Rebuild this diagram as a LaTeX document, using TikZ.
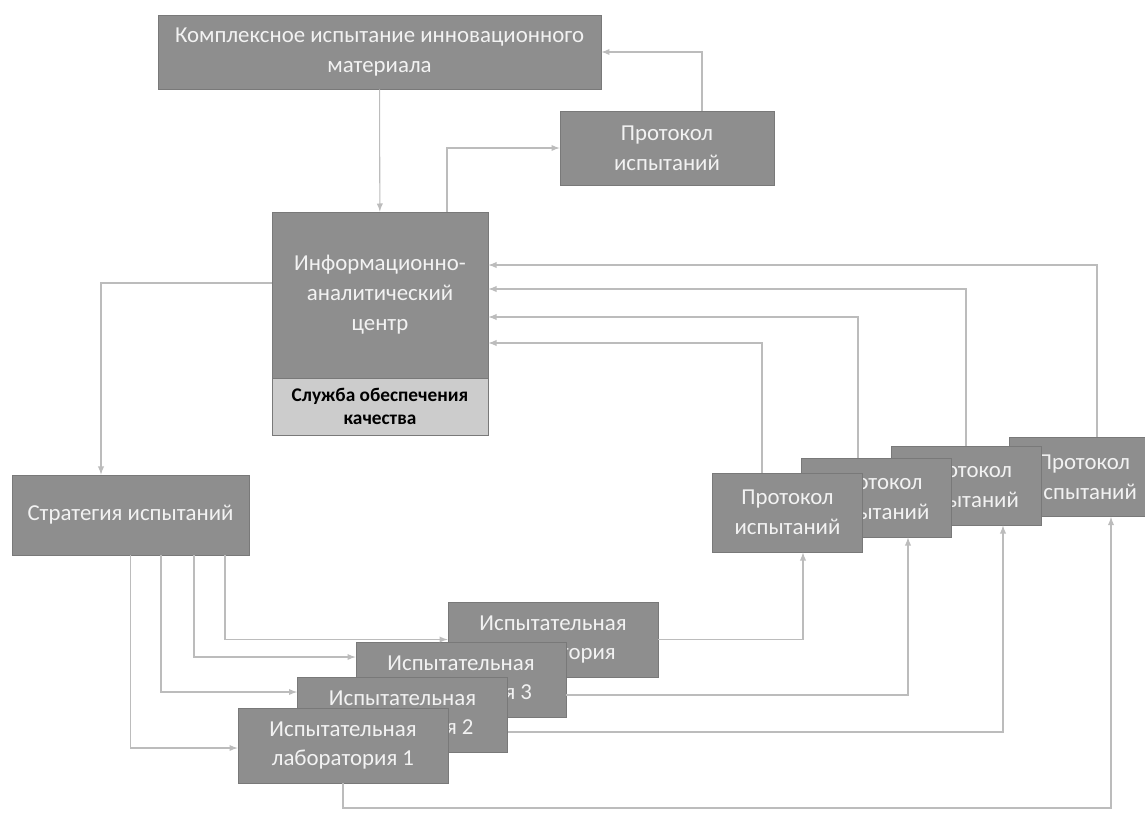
\documentclass[tikz,border=0pt]{standalone}
\usepackage{fontspec}
\setmainfont{Carlito}
\usepackage{tikz}
\usetikzlibrary{arrows, positioning, calc}
\definecolor{boxgray}{RGB}{142,142,142}
\definecolor{qualgray}{RGB}{204,204,204}
\definecolor{linegray}{RGB}{188,188,188}
\tikzstyle{line} = [draw=linegray, line width=0.6pt, -latex]

\begin{document}
\begin{tikzpicture}[x=0.02cm,y=-0.02cm,
 item/.style={rectangle,fill=boxgray,draw=boxgray!85!black,line width=0.5pt,align=center,text=white!95!black,inner sep=2pt,font=\fontsize{13}{17}\selectfont},
 lab/.style={item,minimum width=4.2cm,minimum height=1.5cm},
 prot/.style={item,minimum width=3cm,minimum height=1.58cm}]
 \useasboundingbox (0,0) rectangle (1145,818);

 \node[item, minimum width=8.86cm, minimum height=1.48cm] (top) at (379.5,52) {Комплексное испытание инновационного\\материала};
 \node[item, minimum width=4.28cm, minimum height=1.48cm] (pt) at (667,148) {Протокол\\испытаний};
 \node[item, minimum width=4.32cm, minimum height=3.32cm] (iac) at (380,295) {Информационно-\\аналитический\\центр};
 \node[item, fill=qualgray, text=black, minimum width=4.32cm, minimum height=1.14cm, font=\bfseries\fontsize{11}{13}\selectfont] (q) at (380,406.5) {Служба обеспечения\\качества};
 \node[item, minimum width=4.74cm, minimum height=1.6cm] (str) at (130.5,515) {Стратегия испытаний};

 % labs, back to front
 \node[lab] (l4) at (553,639.5) {Испытательная\\лаборатория};
 \node[lab] (l3) at (461,679.5) {Испытательная\\лаборатория 3};
 \node[lab] (l2) at (402.5,714.5) {Испытательная\\лаборатория 2};
 \node[lab] (l1) at (343,745.5) {Испытательная\\лаборатория 1};

 % protocols, back to front
 \node[prot] (p4) at (1084,477) {Протокол\\испытаний};
 \node[prot] (p3) at (966,485.5) {Протокол\\испытаний};
 \node[prot] (p2) at (876.5,497.5) {Протокол\\испытаний};
 \node[prot] (p1) at (787.5,512.5) {Протокол\\испытаний};

 \draw[line] (top) -- (iac);
 \draw[line] ([xshift=1.34cm]iac.north) |- (pt.west);
 \draw[line] ([xshift=0.7cm]pt.north) |- (top.east);
 \draw[line] ([yshift=0.24cm]iac.west) -| ([xshift=-0.59cm]str.north);

 \draw[line] (str.south) |- ([yshift=-0.05cm]l1.west);
 \draw[line] ([xshift=0.61cm]str.south) |- ([yshift=0.45cm]l2.west);
 \draw[line] ([xshift=1.27cm]str.south) |- ([yshift=0.45cm]l3.west);
 \draw[line] ([xshift=1.89cm]str.south) |- (l4.west);

 \draw[line] (l4.east) -| ([xshift=0.31cm]p1.south);
 \draw[line] ([yshift=-0.31cm]l3.east) -| ([xshift=0.63cm]p2.south);
 \draw[line] ([yshift=-0.35cm]l2.east) -| ([xshift=0.74cm]p3.south);
 \coordinate (bot) at (0,808);
 \draw[line] (l1.south) -- (l1.south |- bot) -| ([xshift=0.54cm]p4.south);

 \draw[line] ([xshift=-0.51cm]p1.north) |- ([yshift=-0.96cm]iac.east);
 \draw[line] ([xshift=-0.37cm]p2.north) |- ([yshift=-0.44cm]iac.east);
 \draw[line] (p3.north) |- ([yshift=0.12cm]iac.east);
 \draw[line] ([xshift=0.26cm]p4.north) |- ([yshift=0.6cm]iac.east);
\end{tikzpicture}
\end{document}
